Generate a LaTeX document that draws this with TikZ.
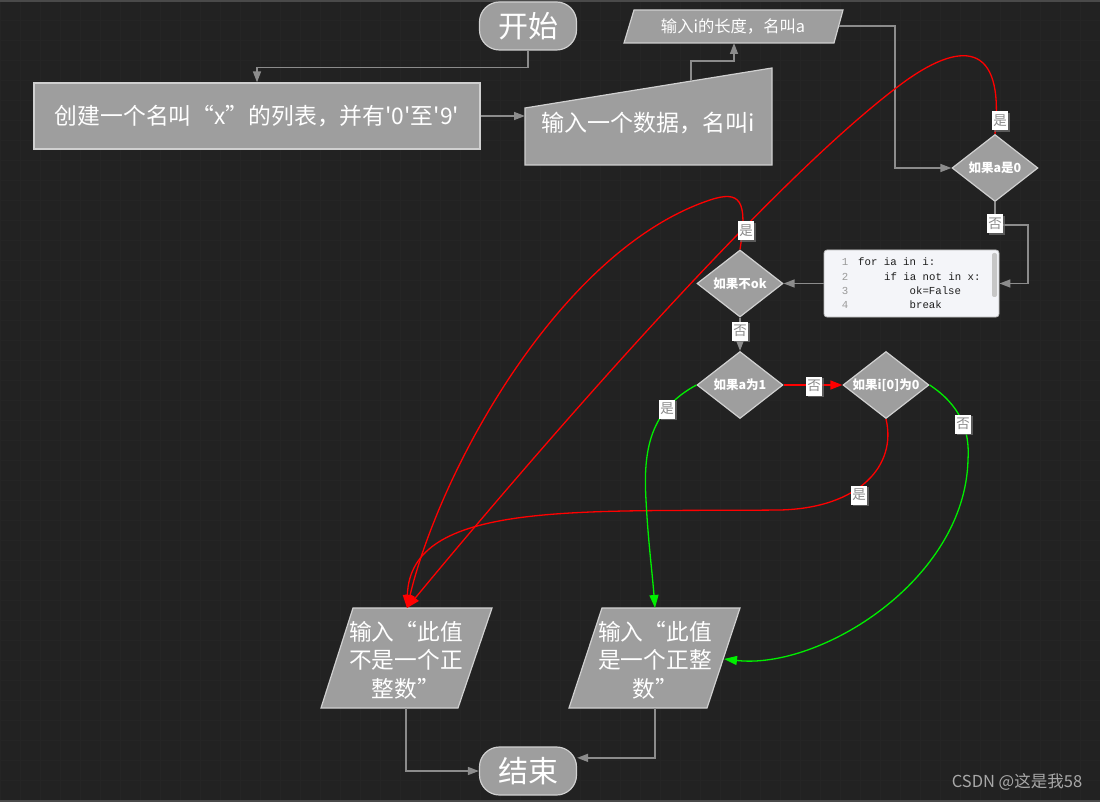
\documentclass[tikz,border=0pt]{standalone}
\usepackage{fontspec}
\newfontfamily\cjk{Noto Sans CJK SC}
\newfontfamily\codefont{Liberation Mono}
\usetikzlibrary{shapes.geometric,arrows.meta,shadows}
\definecolor{bgc}{HTML}{222222}
\definecolor{gridc}{HTML}{252525}
\definecolor{edgec}{HTML}{4A4A4A}
\definecolor{shapefill}{HTML}{9E9E9E}
\definecolor{shapeline}{HTML}{D0D0D0}
\definecolor{connc}{HTML}{8C8C8C}
\definecolor{redc}{HTML}{FF0000}
\definecolor{greenc}{HTML}{00EE00}
\definecolor{lblc}{HTML}{8A8A8A}
\definecolor{codebg}{HTML}{F4F5F9}
\definecolor{codeline}{HTML}{BBBBBB}
\definecolor{scrollc}{HTML}{C6C6C6}
\definecolor{lnum}{HTML}{9A9A9A}
\definecolor{codetxt}{HTML}{1E1E1E}
\definecolor{wmark}{HTML}{A8A8A8}
\tikzset{
  shp/.style={fill=shapefill, draw=shapeline, line width=1.2pt},
  term/.style={shp, rectangle, rounded corners=20pt, minimum width=97pt, minimum height=48pt, inner sep=0pt, text=white, font=\cjk\fontsize{30}{32}\selectfont},
  proc/.style={shp, rectangle, minimum width=446pt, minimum height=66pt, inner sep=0pt, text=white, font=\cjk\fontsize{22.8}{24}\selectfont},
  dia/.style={shp, diamond, minimum width=86pt, minimum height=67pt, inner sep=0pt},
  dtext/.style={text=white, inner sep=0pt, font=\cjk\bfseries\fontsize{12.5}{14}\selectfont},
  ptext/.style={text=white, align=center, inner sep=0pt, font=\cjk\fontsize{22.7}{28.5}\selectfont},
  conn/.style={draw=connc, line width=1.4pt, -{Triangle[length=11pt,width=8pt]}},
  rarr/.style={draw=redc, line width=1.3pt, -{Triangle[length=13pt,width=9pt]}},
  garr/.style={draw=greenc, line width=1.3pt, -{Triangle[length=13pt,width=9pt]}},
  lbl/.style={fill=white, text=lblc, font=\cjk\fontsize{13.5}{14}\selectfont, inner sep=1pt, minimum width=16pt, minimum height=19pt, drop shadow={shadow xshift=1.5pt, shadow yshift=-1.5pt, fill=black!55, opacity=0.7}},
  codetext/.style={anchor=west, inner sep=0pt, text=codetxt, font=\codefont\fontsize{10.7}{12}\selectfont},
  numtext/.style={inner sep=0pt, text=lnum, font=\codefont\fontsize{10.7}{12}\selectfont},
}
\begin{document}
\begin{tikzpicture}[x=1pt,y=-1pt]
\fill[bgc] (0,0) rectangle (1100,802);
\useasboundingbox (0,0) rectangle (1100,802);
\draw[gridc, line width=0.5pt, step=20pt] (0,0) grid (1100,802);
\draw[edgec, line width=2pt] (0,1) -- (1100,1);
\draw[edgec, line width=2pt] (0,801) -- (1100,801);

% shapes
\node[term] (start) at (528,26) {开始};
\node[proc] (create) at (257,116) {创建一个名叫“x”的列表，并有'0'至'9'};

\draw[shp] (525,108) -- (772,68) -- (772,165) -- (525,165) -- cycle;
\node[text=white, inner sep=0pt, font=\cjk\fontsize{23}{24}\selectfont] (minput) at (648,123) {输入一个数据，名叫i};
\coordinate (minleft) at (525,116);
\coordinate (mintop) at (691,81);

\draw[shp] (634,10) -- (843,10) -- (834,43) -- (624,43) -- cycle;
\node[text=white, inner sep=0pt, font=\cjk\fontsize{16.3}{18}\selectfont] (lena) at (733,26.5) {输入i的长度，名叫a};
\coordinate (lenab) at (734,43);
\coordinate (lenar) at (839,26);

\node[dia] (dzero) at (995,168) {};
\node[dtext] (dzerot) at (dzero) {如果a是0};

\node[rectangle, rounded corners=3pt, fill=codebg, draw=codeline, line width=0.8pt, minimum width=175pt, minimum height=67pt, inner sep=0pt] (code) at (911.5,283.5) {};
\fill[scrollc, rounded corners=2pt] (992,253) rectangle (997,297);
\node[numtext] (n1) at (845,262) {1};
\node[numtext] (n2) at (845,276.5) {2};
\node[numtext] (n3) at (845,291) {3};
\node[numtext] (n4) at (845,305) {4};
\node[codetext] (c1) at (858,262) {for ia in i:};
\node[codetext] (c2) at (884,276.5) {if ia not in x:};
\node[codetext] (c3) at (909.5,291) {ok=False};
\node[codetext] (c4) at (909.5,305) {break};

\node[dia] (dnok) at (740,283.5) {};
\node[dtext] (dnokt) at (dnok) {如果不ok};
\node[dia] (done) at (740,385) {};
\node[dtext] (donet) at (done) {如果a为1};
\node[dia] (dizero) at (886,385) {};
\node[dtext] (dizerot) at (dizero) {如果i[0]为0};

\draw[shp] (353,608) -- (492,608) -- (458,708) -- (321,708) -- cycle;
\node[ptext] (pno) at (406,660) {输入“此值\\不是一个正\\整数”};
\coordinate (pnotop) at (407,608);
\coordinate (pnobot) at (406,708);

\draw[shp] (602,608) -- (740,608) -- (707,708) -- (569,708) -- cycle;
\node[ptext] (pyes) at (655,660) {输入“此值\\是一个正整\\数”};
\coordinate (pyestop) at (655,608);
\coordinate (pyesbot) at (655,708);
\coordinate (pyesright) at (724,659);

\node[term] (end) at (528,771) {结束};

% gray connectors
\draw[conn] (start.south) -- ++(0,17) -| (create.north);
\draw[conn] (create.east) -- (minleft);
\draw[conn] (mintop) -- (691,61) -| (lenab);
\draw[conn] (lenar) -| (895,168) -- (dzero.west);
\draw[conn] (dzero.south) |- (1028,225) |- (code.east);
\draw[conn] (code.west) -- (dnok.east);
\draw[conn] (dnok.south) -- (done.north);
\draw[conn] (pnobot) |- (end.west);
\draw[conn] (pyesbot) |- (end.15);

% red connectors
\draw[rarr] (dzero.north) .. controls (1005,40) and (960,40) .. (900,85) .. controls (740,205) and (445,562) .. (pnotop);
\draw[rarr] (dnok.north) .. controls (748,200) and (740,190) .. (710,200) .. controls (560,250) and (440,470) .. (pnotop);
\draw[rarr] (dizero.south) .. controls (897,465) and (860,508) .. (780,510) .. controls (580,512) and (410,500) .. (pnotop);
\draw[rarr, -{Triangle[length=12pt,width=9pt]}] (done.east) -- (dizero.west);

% green connectors
\draw[garr] (done.west) .. controls (650,410) and (643,450) .. (646,500) .. controls (648,540) and (652,570) .. (pyestop);
\draw[garr] (dizero.east) .. controls (960,405) and (970,430) .. (968,460) .. controls (965,580) and (820,670) .. (pyesright);

% labels
\node[lbl] (l1) at (1000,121) {是};
\node[lbl] (l2) at (995,224) {否};
\node[lbl] (l3) at (746,231) {是};
\node[lbl] (l4) at (740,331) {否};
\node[lbl] (l5) at (814,386) {否};
\node[lbl] (l6) at (667,409) {是};
\node[lbl] (l7) at (963,424) {否};
\node[lbl] (l8) at (859,495) {是};

\node[text=wmark, inner sep=0pt, font=\cjk\fontsize{16.5}{18}\selectfont] (wm) at (1017,782) {CSDN @这是我58};
\end{tikzpicture}
\end{document}
